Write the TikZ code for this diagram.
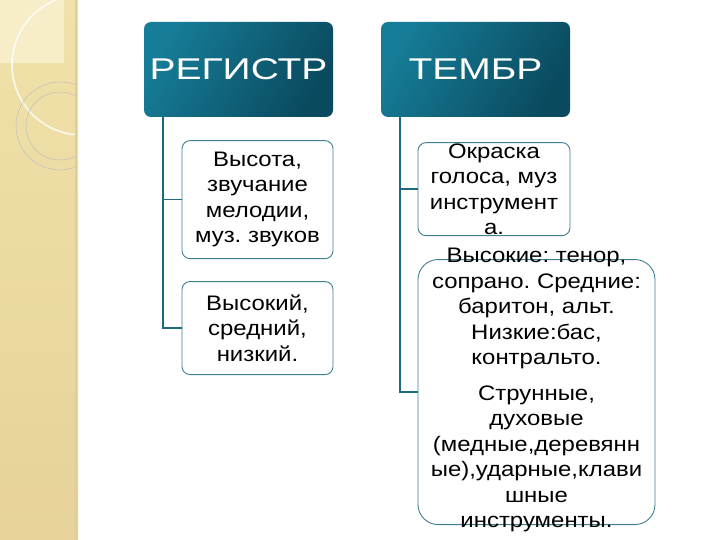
\documentclass[tikz,border=0pt]{standalone}
\usepackage{fontspec}
\setmainfont{Liberation Sans}
\newfontfamily\headfont[FakeStretch=1.3]{Liberation Sans}
\newfontfamily\bodyfont[FakeStretch=1.14]{Liberation Sans}
\usepackage{xcolor}
\usetikzlibrary{positioning, calc}

\definecolor{stripe}{HTML}{F0E2AA}
\definecolor{stripelow}{HTML}{E6D29A}
\definecolor{stripetop}{HTML}{F7EDC9}
\definecolor{stripeedge}{HTML}{E2CC98}
\definecolor{headdark}{HTML}{0A4A5F}
\definecolor{headlight}{HTML}{167C97}
\definecolor{linecol}{HTML}{1D6A80}
\definecolor{boxline}{HTML}{3F7F92}

\begin{document}
\frenchspacing
\begin{tikzpicture}[
  x=1pt, y=-1pt,
  header/.style={rectangle, rounded corners=7pt, draw=none,
                 left color=headlight, right color=headdark, shading angle=60,
                 minimum width=189pt, minimum height=95pt,
                 text=white, font=\headfont\fontsize{30}{34}\selectfont},
  box/.style={rectangle, draw=boxline, line width=0.9pt, fill=white,
              rounded corners=8pt, minimum width=151pt, minimum height=93pt},
  bigbox/.style={box, rounded corners=20pt, minimum width=237pt, minimum height=265pt},
  txt/.style={align=center, inner sep=0pt, text=black,
              font=\bodyfont\fontsize{21}{25.5}\selectfont},
  conn/.style={draw=linecol, line width=1.6pt},
]
\useasboundingbox (0,0) rectangle (720,540);

% Background stripe
\fill[top color=stripe, bottom color=stripelow] (0,0) rectangle (78,540);
\fill[stripetop] (0,0) rectangle (64,63);
\draw[stripeedge, line width=2pt] (76,0) -- (76,540);
\begin{scope}
  \clip (0,0) rectangle (75,540);
  \draw[white, line width=1.6pt, opacity=0.8] (82,65) circle[radius=70];
  \draw[black!25, line width=0.5pt] (60,126) circle[radius=44];
  \draw[black!25, line width=0.5pt] (60,126) circle[radius=34];
\end{scope}

% Headers
\node[header] (reg) at (238.5,69.5) {РЕГИСТР};
\node[header] (tem) at (475.5,69.5) {ТЕМБР};

% Register boxes
\node[box, minimum height=118pt, below=23pt of reg, xshift=19pt] (b1) {};
\node[box, below=22pt of b1] (b2) {};
\node[txt] (t1) at (b1) {Высота,\\звучание\\мелодии,\\муз. звуков};
\node[txt] (t2) at (b2) {Высокий,\\средний,\\низкий.};

% Timbre boxes
\node[box, minimum width=152pt, below=25pt of tem, xshift=18.5pt] (b3) {};
\node[bigbox, below=23pt of b3.south west, anchor=north west] (b4) {};
\node[txt] (t3) at (b3) {Окраска\\голоса, муз\\инструмент\\а.};
\node[txt] (t4) at ([yshift=2pt]b4.center) {Высокие: тенор,\\сопрано. Средние:\\баритон, альт.\\Низкие:бас,\\контральто.\\[10pt]Струнные,\\духовые\\(медные,деревянн\\ые),ударные,клави\\шные\\инструменты.};

% Connectors
\draw[conn] ([xshift=19pt]reg.south west) |- (b1.west);
\draw[conn] ([xshift=19pt]reg.south west) |- (b2.west);
\draw[conn] ([xshift=19pt]tem.south west) |- (b3.west);
\draw[conn] ([xshift=19pt]tem.south west) |- (b4.west);

\end{tikzpicture}
\end{document}
